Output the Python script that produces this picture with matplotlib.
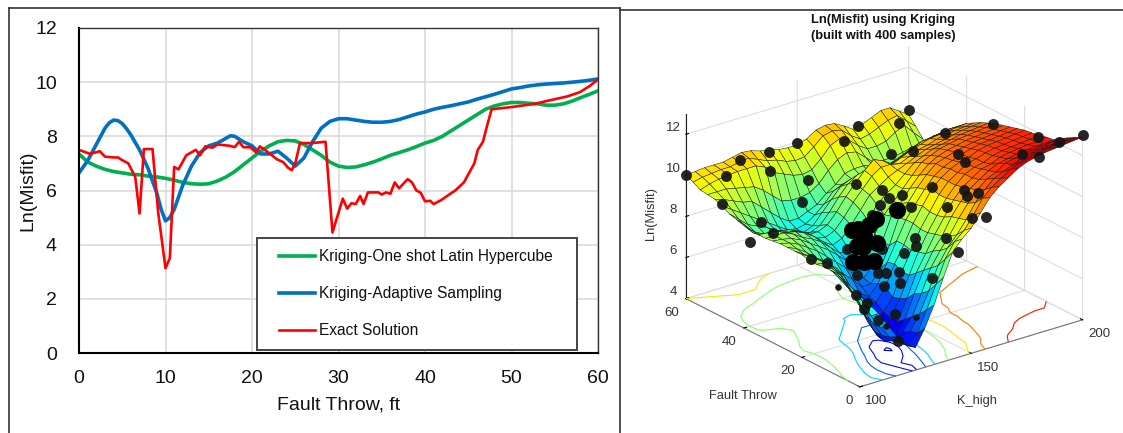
import numpy as np
import matplotlib
matplotlib.use('Agg')
import matplotlib.pyplot as plt
from matplotlib.lines import Line2D
from matplotlib.patches import Rectangle

plt.rcParams['font.family'] = ['Liberation Sans', 'DejaVu Sans']

# left chart
green_x = list(range(0, 61))
green_y = [7.35, 7.05, 6.9, 6.78, 6.7, 6.65, 6.6, 6.58, 6.53, 6.5, 6.45, 6.38, 6.3, 6.25, 6.23, 6.25,
           6.35, 6.5, 6.7, 6.95, 7.2, 7.45, 7.65, 7.8, 7.85, 7.83, 7.7, 7.5, 7.3, 7.05, 6.9, 6.85,
           6.87, 6.95, 7.05, 7.17, 7.3, 7.4, 7.5, 7.62, 7.75, 7.85, 8.0, 8.2, 8.4, 8.6, 8.8, 9.0,
           9.12, 9.2, 9.25, 9.25, 9.22, 9.2, 9.15, 9.15, 9.2, 9.3, 9.43, 9.55, 9.68]
blue_x = [0, 1, 2, 2.5, 3, 3.5, 4, 4.5, 5, 5.5, 6, 7, 8, 9, 9.5, 10, 10.5, 11, 12, 13, 14, 15, 16, 17, 17.5,
          18, 19, 20, 21, 22, 23, 24, 25, 26, 27, 28, 29, 30, 31, 32, 33, 34, 35, 36, 37, 38, 39, 40,
          41, 42, 43, 44, 45, 46, 47, 48, 49, 50, 51, 52, 53, 54, 55, 56, 57, 58, 59, 60]
blue_y = [6.65, 7.1, 7.7, 8.0, 8.3, 8.5, 8.6, 8.58, 8.47, 8.28, 8.05, 7.5, 6.8, 5.9, 5.3, 4.88, 5.0, 5.3, 6.2,
          6.9, 7.4, 7.65, 7.75, 7.93, 8.02, 8.0, 7.8, 7.65, 7.35, 7.35, 7.45, 7.2, 6.9, 7.2, 7.8, 8.3,
          8.55, 8.65, 8.65, 8.6, 8.55, 8.52, 8.52, 8.55, 8.62, 8.72, 8.82, 8.9, 9.0, 9.07, 9.13, 9.2,
          9.27, 9.37, 9.46, 9.55, 9.65, 9.75, 9.8, 9.86, 9.9, 9.93, 9.95, 9.97, 10.0, 10.03, 10.07, 10.12]
red_x = [0, 1.3, 2.4, 3, 4, 4.5, 5, 5.7, 6.5, 7, 7.5, 8.5, 9.15, 10, 10.5, 11, 11.5, 12.4, 13.5, 14,
         14.6, 15.45, 16, 17.45, 18, 18.5, 19, 19.8, 20.5, 20.9, 21.7, 22.9, 23.6, 24.2, 24.6, 25,
         25.55, 26.9, 28.5, 29.3, 30.5, 31, 31.5, 32, 32.5, 32.9, 33.4, 34.6, 35, 35.5, 36, 36.5,
         37, 38, 38.5, 39, 39.5, 40, 40.6, 41, 41.9, 42.7, 43.5, 44.5, 45.7, 46.1, 46.7, 47.1,
         47.7, 50, 52.7, 54, 56.4, 57.9, 59, 60]
red_y = [7.5, 7.35, 7.45, 7.25, 7.22, 7.22, 7.12, 7.0, 6.5, 5.15, 7.53, 7.53, 5.2, 3.13, 3.5, 6.87,
         6.78, 7.3, 7.5, 7.3, 7.63, 7.58, 7.7, 7.65, 7.6, 7.8, 7.6, 7.6, 7.4, 7.63, 7.45, 7.15,
         7.05, 6.83, 6.75, 7.0, 7.75, 7.75, 7.8, 4.45, 5.7, 5.33, 5.53, 5.5, 5.8, 5.5, 5.93, 5.93,
         5.85, 5.93, 5.88, 6.3, 6.08, 6.42, 6.3, 6.0, 5.92, 5.6, 5.62, 5.5, 5.65, 5.83, 6.0, 6.3,
         7.0, 7.5, 7.8, 8.3, 9.0, 9.08, 9.2, 9.3, 9.47, 9.63, 9.85, 10.1]
legend_labels = ['Kriging-One shot Latin Hypercube', 'Kriging-Adaptive Sampling', 'Exact Solution']

# surface, rows are fault throw 0..60, columns K_high 100..200
fault = np.linspace(0, 60, 25)
k_high = np.linspace(100, 200, 25)
misfit = np.array([
    [8.4, 7.9, 7.3, 6.6, 5.9, 5.4, 5.1, 5.9, 6.9, 8.1, 9.2, 9.7, 10.1, 10.7, 11.3, 11.7, 12.0, 12.3, 12.5, 12.6, 12.7, 12.75, 12.8, 12.85, 12.9],
    [8.6, 7.9, 7.0, 6.3, 5.7, 5.3, 5.0, 5.5, 6.5, 7.6, 8.7, 9.4, 9.8, 10.4, 11.1, 11.5, 11.8, 12.1, 12.3, 12.4, 12.5, 12.6, 12.65, 12.7, 12.7],
    [8.75, 8.0, 7.1, 6.3, 5.6, 5.2, 5.2, 5.4, 6.1, 7.1, 8.2, 8.9, 9.4, 10.0, 10.7, 11.2, 11.6, 11.8, 12.0, 12.2, 12.3, 12.35, 12.4, 12.45, 12.5],
    [8.9, 8.3, 7.5, 6.5, 5.6, 5.0, 5.0, 5.2, 5.8, 6.8, 7.9, 8.6, 9.2, 9.9, 10.5, 11.0, 11.4, 11.6, 11.9, 12.0, 12.1, 12.15, 12.2, 12.25, 12.3],
    [8.95, 8.6, 7.8, 6.9, 5.9, 5.1, 4.7, 4.7, 5.5, 6.6, 7.6, 8.4, 9.0, 9.8, 10.4, 10.9, 11.2, 11.5, 11.7, 11.8, 11.9, 11.95, 12.0, 12.0, 12.05],
    [8.95, 8.7, 8.2, 7.4, 6.4, 5.5, 4.7, 4.5, 5.2, 6.2, 7.3, 8.1, 8.9, 9.6, 10.3, 10.8, 11.1, 11.4, 11.5, 11.7, 11.8, 11.85, 11.9, 11.9, 12.0],
    [8.9, 8.8, 8.4, 7.9, 7.0, 5.9, 5.0, 4.8, 5.2, 6.0, 7.0, 8.0, 8.8, 9.5, 10.2, 10.7, 11.1, 11.3, 11.4, 11.6, 11.7, 11.75, 11.8, 11.85, 11.9],
    [8.9, 8.8, 8.5, 8.1, 7.4, 6.4, 5.5, 5.1, 5.3, 5.9, 7.0, 7.9, 8.8, 9.5, 10.2, 10.7, 11.0, 11.3, 11.4, 11.55, 11.65, 11.7, 11.75, 11.8, 11.85],
    [9.0, 8.8, 8.5, 8.1, 7.5, 6.7, 6.0, 5.6, 5.6, 6.2, 7.2, 8.0, 8.9, 9.6, 10.3, 10.7, 11.0, 11.2, 11.3, 11.5, 11.6, 11.65, 11.7, 11.75, 11.8],
    [9.0, 8.7, 8.4, 8.0, 7.5, 6.9, 6.4, 6.0, 5.7, 6.2, 7.1, 8.0, 8.9, 9.5, 10.1, 10.6, 10.9, 11.1, 11.25, 11.4, 11.5, 11.55, 11.6, 11.65, 11.7],
    [9.0, 8.8, 8.5, 8.1, 7.7, 7.3, 6.9, 6.5, 6.0, 6.0, 6.6, 7.6, 8.8, 9.4, 10.0, 10.5, 10.9, 11.05, 11.2, 11.3, 11.4, 11.45, 11.5, 11.55, 11.6],
    [9.0, 8.9, 8.7, 8.4, 8.1, 7.7, 7.3, 6.9, 6.4, 6.1, 6.6, 7.6, 8.7, 9.2, 9.8, 10.3, 10.7, 10.95, 11.1, 11.2, 11.3, 11.35, 11.4, 11.45, 11.5],
    [8.95, 8.9, 8.8, 8.6, 8.3, 8.0, 7.7, 7.3, 6.9, 6.6, 7.0, 7.8, 8.6, 9.1, 9.6, 10.1, 10.6, 10.8, 11.0, 11.1, 11.2, 11.25, 11.3, 11.35, 11.4],
    [8.9, 8.9, 8.9, 8.7, 8.4, 8.2, 7.9, 7.5, 7.1, 7.1, 7.6, 8.3, 8.9, 9.3, 9.6, 10.0, 10.4, 10.6, 10.8, 10.9, 11.0, 11.1, 11.15, 11.2, 11.25],
    [8.9, 8.85, 8.8, 8.6, 8.5, 8.3, 8.0, 7.6, 7.3, 7.5, 8.0, 8.6, 9.2, 9.5, 9.8, 10.0, 10.2, 10.4, 10.6, 10.7, 10.8, 10.9, 11.0, 11.05, 11.1],
    [8.95, 8.6, 8.4, 8.4, 8.3, 8.2, 8.0, 7.6, 7.5, 7.7, 8.2, 8.8, 9.3, 9.8, 10.1, 10.1, 10.0, 10.2, 10.4, 10.5, 10.65, 10.75, 10.8, 10.85, 10.9],
    [9.05, 8.5, 8.2, 8.1, 8.2, 8.1, 7.9, 7.6, 7.6, 7.8, 8.3, 8.9, 9.4, 9.9, 10.3, 10.1, 9.8, 10.0, 10.2, 10.35, 10.5, 10.55, 10.6, 10.65, 10.7],
    [9.1, 8.6, 8.2, 8.0, 8.0, 7.9, 7.6, 7.4, 7.4, 7.6, 8.1, 8.7, 9.2, 9.5, 9.6, 9.5, 9.4, 9.6, 9.8, 10.0, 10.2, 10.25, 10.3, 10.4, 10.4],
    [9.2, 8.8, 8.4, 8.2, 8.0, 7.7, 7.4, 7.2, 7.2, 7.4, 7.9, 8.4, 8.9, 9.1, 9.0, 8.9, 9.0, 9.2, 9.4, 9.6, 9.8, 9.9, 10.0, 10.05, 10.1],
    [9.4, 9.1, 8.8, 8.5, 8.2, 7.9, 7.6, 7.3, 7.2, 7.3, 7.6, 8.0, 8.5, 8.7, 8.8, 8.8, 8.8, 8.9, 9.0, 9.0, 9.0, 9.1, 9.2, 9.2, 9.4],
    [9.55, 9.4, 9.2, 9.0, 8.9, 8.5, 8.1, 7.7, 7.4, 7.4, 7.6, 7.8, 8.2, 8.5, 8.9, 9.0, 9.0, 8.9, 8.6, 8.4, 8.3, 8.3, 8.4, 8.6, 8.9],
    [9.6, 9.6, 9.6, 9.5, 9.4, 9.3, 9.0, 8.6, 8.2, 8.1, 8.1, 8.2, 8.5, 9.0, 9.4, 9.6, 9.5, 9.1, 8.7, 8.7, 8.7, 8.8, 8.9, 8.8, 8.8],
    [9.65, 9.8, 9.9, 9.95, 10.0, 10.0, 10.0, 9.8, 9.4, 9.2, 9.0, 8.9, 9.0, 9.4, 9.9, 10.1, 9.9, 9.5, 9.2, 9.2, 9.3, 9.6, 9.8, 9.3, 8.85],
    [9.85, 9.95, 10.0, 10.05, 10.05, 10.15, 10.2, 10.0, 9.8, 9.7, 9.5, 9.4, 9.45, 9.8, 10.2, 10.3, 10.2, 9.8, 9.5, 9.6, 9.8, 10.0, 10.1, 9.7, 9.3],
    [10.0, 10.05, 10.1, 10.1, 10.1, 10.2, 10.3, 10.25, 10.1, 10.0, 9.9, 9.85, 9.85, 10.0, 10.3, 10.4, 10.35, 10.1, 9.8, 9.9, 10.1, 10.3, 10.3, 10.0, 9.7],
])
contour_levels = [4.6, 5.2, 6.0, 7.0, 8.7, 10.0, 11.0, 12.0]

# sample points
sample_k = [100, 111, 118, 131, 126, 146, 167, 199, 189, 166, 194, 200, 199, 200, 200, 186, 187, 176, 182,
            178, 189, 143, 157, 106, 134, 153, 157, 161, 160, 161, 158, 156, 152, 153, 156, 158, 157,
            151, 104, 109, 112, 117, 123, 145, 146, 147, 146, 145, 148, 141, 135, 142, 143, 143, 144,
            143, 142, 127, 137, 133, 133, 139, 125]
sample_f = [60, 54.6, 55, 55, 51, 57, 52, 59, 55, 56, 43, 31, 14.5, 0, 8, 10, 5, 22, 29, 49, 50, 51, 45, 52,
            46, 33, 19, 11, 9, 6, 30, 33, 33, 23, 13, 1, 5, 35, 41, 41, 39, 30, 29, 27, 20, 17, 16, 5,
            3, 36, 28, 26, 24, 19.5, 20, 8, 24, 22, 26, 24, 19, 18, 6]
sample_z = [10, 10, 10.5, 10.5, 10, 10.3, 10.8, 10, 10, 9.8, 10.2, 11.3, 11.9, 13, 12.1, 11.8, 12, 10.9,
            10.6, 9.3, 9, 9, 8.8, 9, 8.6, 9.5, 10.5, 10.8, 10.7, 11, 9.3, 9, 8.8, 9.4, 10, 10.3, 10,
            8.2, 8, 8.8, 8.3, 7.5, 7.2, 7.3, 7.6, 8.5, 8.2, 9.4, 8.8, 6.8, 6.3, 6.3, 6.4, 6.8, 6.2,
            7.3, 5.8, 6, 5, 5, 4.8, 5, 5]
cluster_k = [145, 142, 147, 154, 143, 146, 150, 141, 144, 148, 140, 146]
cluster_f = [33, 31, 33, 28.5, 34, 36, 33, 30, 29, 31, 33, 38]
cluster_z = [7.5, 7.2, 8, 8.8, 7.0, 7.6, 8.2, 6.6, 6.6, 7.2, 6.4, 7.4]
small_k = [115, 141, 130]
small_f = [19, 12, 14]
small_z = [7, 5.2, 5]

W, H = 1123, 433
fig = plt.figure(figsize=(W / 100, H / 100), dpi=100)

# panel frame
for xs, ys in [((9, 9), (8, 433)), ((9, 620), (8, 8)), ((620, 620), (8, 433)), ((620, 1123), (10, 10))]:
    fig.add_artist(Line2D([x / W for x in xs], [1 - y / H for y in ys], color='#333333', lw=1.2))

ax = fig.add_axes([79 / W, 1 - 353 / H, 519 / W, 325 / H])
ax.grid(color='#D9D9D9', lw=1.1)
ax.set_axisbelow(True)
ax.plot(green_x, green_y, color='#00B050', lw=2.6, label=legend_labels[0], solid_joinstyle='round')
ax.plot(blue_x, blue_y, color='#0070C0', lw=2.6, label=legend_labels[1], solid_joinstyle='round')
ax.plot(red_x, red_y, color='#FF0000', lw=1.9, label=legend_labels[2], solid_joinstyle='round')
ax.set_xlim(0, 60)
ax.set_ylim(0, 12)
ax.set_xticks(range(0, 61, 10))
ax.set_yticks(range(0, 13, 2))
ax.tick_params(length=0, labelsize=14, pad=12, labelcolor='#111111')
ax.tick_params(axis='y', pad=16)
ax.set_xlabel('Fault Throw, ft', fontsize=14, labelpad=7, color='#111111')
ax.set_ylabel('Ln(Misfit)', fontsize=14, labelpad=-1, color='#111111')
for s in ['left', 'bottom']:
    ax.spines[s].set_linewidth(1.5)
for s in ['top', 'right']:
    ax.spines[s].set_linewidth(1.0)
    ax.spines[s].set_color('#333333')

ax.add_patch(Rectangle((20.6, 0.11), 36.95, 4.14, fc='white', ec='#444444', lw=1.4, zorder=4))
leg = ax.legend(loc='upper left', bbox_to_anchor=(279 / 519 - 79 / 519, 1 - (249 - 28) / 325), frameon=False,
                fontsize=11.2, handlelength=2.3, handletextpad=0.25, labelspacing=1.42, borderpad=0,
                borderaxespad=0, labelcolor='#111111')
leg.set_zorder(5)

# right chart
ax3 = fig.add_axes([627 / W, -1 / H, 503 / W, 1 - 10 / H], projection='3d', computed_zorder=False)
ax3.set_proj_type('ortho')
ax3.view_init(elev=23, azim=-127.6)
ax3.set_box_aspect((280, 284, 200), zoom=1.028)
K, F = np.meshgrid(k_high, fault)
ax3.contour(K, F, misfit, levels=contour_levels, zdir='z', offset=4, cmap='jet', vmin=4, vmax=13,
            linewidths=0.8, zorder=1)
ax3.plot_surface(K, F, misfit, cmap='jet', vmin=4, vmax=13, rstride=1, cstride=1, shade=False,
                 edgecolor='#151515', linewidth=0.35, zorder=2)
ax3.scatter(sample_k, sample_f, sample_z, s=62, c='#141414', alpha=0.92, depthshade=False, linewidths=0, zorder=3)
ax3.scatter(cluster_k, cluster_f, cluster_z, s=150, c='black', depthshade=False, linewidths=0, zorder=3)
ax3.scatter(small_k, small_f, small_z, s=22, c='#141414', depthshade=False, linewidths=0, zorder=3)
ax3.set_xlim(100, 200)
ax3.set_ylim(0, 60)
ax3.set_zlim(4, 13)
ax3.set_xticks([100, 150, 200])
ax3.set_yticks([0, 20, 40, 60])
ax3.set_zticks([4, 6, 8, 10, 12])
ax3.tick_params(labelsize=9.5, labelcolor='#333333', pad=-3)
for t in ax3.get_xticklabels():
    t.set_ha('left')
for t in ax3.get_yticklabels():
    t.set_ha('right')
for t in ax3.get_zticklabels():
    t.set_va('bottom')
for axis in [ax3.xaxis, ax3.yaxis, ax3.zaxis]:
    axis.set_pane_color((1, 1, 1, 0))
    axis.pane.set_edgecolor((1, 1, 1, 0))
    axis._axinfo['grid'].update(color='#DEDEDE', linewidth=0.8)
    axis._axinfo['tick'].update(inward_factor=0.0, outward_factor=0.15)
ax3.xaxis.line.set_color('#777777')
ax3.yaxis.line.set_color('#777777')
ax3.zaxis.line.set_color('#222222')

fig.text(883 / W, 1 - 28 / H, 'Ln(Misfit) using Kriging\n(built with 400 samples)', ha='center', va='center',
         fontsize=9.3, fontweight='bold', color='#111111', linespacing=1.4)
fig.text(743 / W, 1 - 396 / H, 'Fault Throw', ha='center', va='center', fontsize=9.3, color='#333333')
fig.text(977 / W, 1 - 401 / H, 'K_high', ha='center', va='center', fontsize=9.3, color='#333333')
fig.text(651 / W, 1 - 213 / H, 'Ln(Misfit)', ha='center', va='center', rotation=90, fontsize=9.3, color='#333333')

fig.savefig('out.png', dpi=100)
